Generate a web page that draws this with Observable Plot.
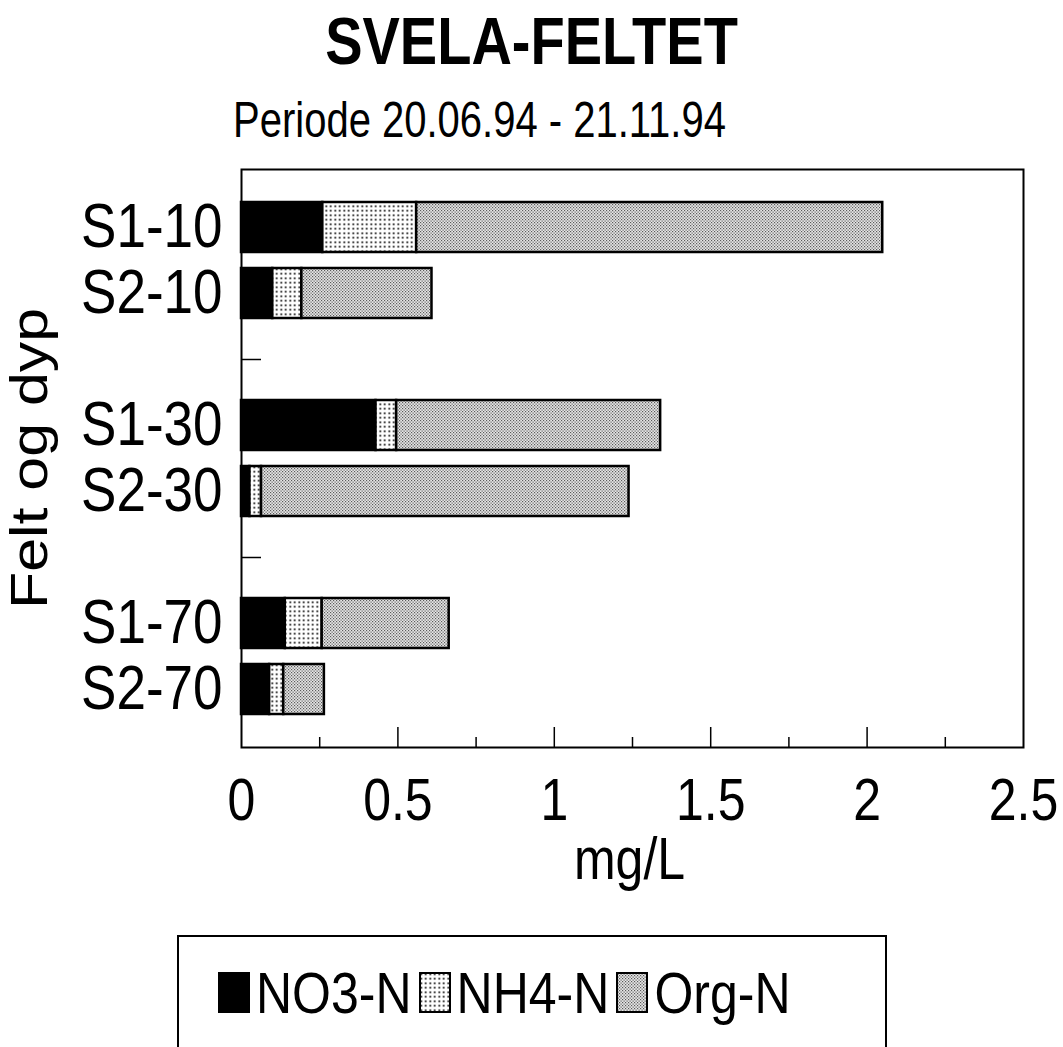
<!DOCTYPE html>
<html><head><meta charset="utf-8">
<script src="https://cdn.jsdelivr.net/npm/d3@7"></script>
<script src="https://cdn.jsdelivr.net/npm/@observablehq/plot@0.6"></script>
<style>
body{margin:0;background:#fff;font-family:"Liberation Sans",Arial,Helvetica,sans-serif;color:#000}
#wrap{position:relative;width:1063px;height:1047px;overflow:hidden;background:#fff}
#title{position:absolute;left:0;top:16.6px;width:1063px;text-align:center;font-weight:bold;font-size:56px;line-height:56px;transform:scaleY(1.2);transform-origin:50% 47.4px}
#subtitle{position:absolute;left:233px;top:103px;font-size:40px;line-height:40px;white-space:nowrap;transform:scaleY(1.25);transform-origin:0 33.9px}
#chart{position:absolute;left:0;top:150px}
#legend{position:absolute;left:177px;top:935px;width:710px;height:200px;border:2px solid #000;box-sizing:border-box}
#legend .items{position:absolute;left:39px;top:33.7px;display:flex;align-items:flex-start;white-space:nowrap}
#legend .sw{width:32px;height:41px;margin-top:1.3px;margin-right:6px}
#legend .lab{font-size:50px;line-height:50px;margin-right:7px;transform:scaleY(1.15);transform-origin:0 42.3px;display:inline-block}
</style></head><body>
<div id="wrap">
<svg width="0" height="0" style="position:absolute">
<defs>
<pattern id="pNH4" width="4.5" height="4.5" patternUnits="userSpaceOnUse">
 <rect width="4.5" height="4.5" fill="#fff"/>
 <rect x="1.4" y="1.4" width="1.7" height="1.7" fill="#000"/>
</pattern>
<pattern id="pOrg" width="3" height="3" patternUnits="userSpaceOnUse">
 <rect width="3" height="3" fill="#e6e6e6"/>
 <rect x="0" y="0" width="1.2" height="1.2" fill="#5a5a5a"/>
 <rect x="1.5" y="1.5" width="1.2" height="1.2" fill="#5a5a5a"/>
</pattern>
</defs></svg>
<div id="title">SVELA-FELTET</div>
<div id="subtitle">Periode 20.06.94 - 21.11.94</div>
<div id="chart"></div>
<div id="legend"><div class="items" id="legendItems"></div></div>
</div>
<script>
// Data
const sites = ["S1-10", "S2-10", "S1-30", "S2-30", "S1-70", "S2-70"];
const no3 = [0.26, 0.10, 0.43, 0.027, 0.14, 0.09];
const nh4 = [0.30, 0.093, 0.066, 0.037, 0.118, 0.045];
const org = [1.49, 0.416, 0.844, 1.175, 0.406, 0.13];
const components = ["NO3-N", "NH4-N", "Org-N"];
const componentFills = ["#000", "url(#pNH4)", "url(#pOrg)"];
const xTicks = [0, 0.5, 1, 1.5, 2, 2.5];
const xMinorTicks = [0.25, 0.75, 1.25, 1.75, 2.25];
const depthGaps = ["gap-10-30", "gap-30-70"];
const yLabel = "Felt og dyp";
const xLabel = "mg/L";

const series = [no3, nh4, org];
const rows = sites.flatMap((s, i) => components.map((c, k) => ({site: s, component: c, value: series[k][i]})));
const yDomain = [...sites.slice(0, 2), depthGaps[0], ...sites.slice(2, 4), depthGaps[1], ...sites.slice(4)];

const font = '"Liberation Sans", Arial, Helvetica, sans-serif';
const chart = Plot.plot({
  width: 1063, height: 750,
  marginTop: 19, marginBottom: 153, marginLeft: 241, marginRight: 40,
  style: {fontFamily: font, color: "#000", background: "transparent", overflow: "visible"},
  x: {domain: [0, 2.5]},
  y: {domain: yDomain, paddingInner: 0.25, paddingOuter: 0.44},
  color: {domain: components, range: componentFills},
  marks: [
    Plot.barX(rows, Plot.stackX({y: "site", x: "value", fill: "component", order: components, stroke: "#000", strokeWidth: 2.5})),
    Plot.frame({stroke: "#000", strokeWidth: 2}),
    Plot.axisX({ticks: xTicks, tickSize: 0, tickPadding: 31, fontSize: 50, label: null, tickFormat: d => String(d)}),
    Plot.axisX({ticks: xTicks.slice(1, -1), tickSize: -20, tickFormat: () => "", label: null, strokeWidth: 1.5}),
    Plot.axisX({ticks: xMinorTicks, tickSize: -10, tickFormat: () => "", label: null, strokeWidth: 1.5}),
    Plot.axisY({ticks: sites, tickSize: 0, tickPadding: 19, fontSize: 53, label: null}),
    Plot.axisY({ticks: depthGaps, tickSize: -20, tickFormat: () => "", label: null, strokeWidth: 1.5}),
    Plot.text([yLabel], {frameAnchor: "left", textAnchor: "middle", lineAnchor: "middle", text: d => d, rotate: -90, dx: -211, fontSize: 52}),
    Plot.text([xLabel], {frameAnchor: "bottom", textAnchor: "middle", lineAnchor: "middle", text: d => d, dy: 113, dx: -3, fontSize: 50})
  ]
});

// The reference lettering is taller than the typeface; stretch glyphs along the page's vertical.
function stretchText(svg, k) {
  svg.querySelectorAll("text").forEach(t => {
    if (!t.textContent) return;
    const tr = t.getAttribute("transform") || "";
    const x = t.getAttribute("x"), y = t.getAttribute("y");
    let tx = 0, ty = 0;
    if (x && !/em$/.test(x)) { tx = +x; t.removeAttribute("x"); }
    if (y && !/em$/.test(y)) { ty = +y; t.removeAttribute("y"); }
    const rotated = /rotate/.test(tr);
    t.setAttribute("transform", `${tr} translate(${tx},${ty}) ${rotated ? `scale(${k},1)` : `scale(1,${k})`}`);
  });
}
stretchText(chart, 1.17);
document.getElementById("chart").appendChild(chart);

// Legend
const li = document.getElementById("legendItems");
components.forEach((c, k) => {
  const sw = document.createElementNS("http://www.w3.org/2000/svg", "svg");
  sw.setAttribute("class", "sw");
  sw.setAttribute("width", 32); sw.setAttribute("height", 41);
  const r = document.createElementNS("http://www.w3.org/2000/svg", "rect");
  r.setAttribute("x", 1); r.setAttribute("y", 1); r.setAttribute("width", 30); r.setAttribute("height", 39);
  r.setAttribute("fill", componentFills[k]); r.setAttribute("stroke", "#000"); r.setAttribute("stroke-width", 2);
  sw.appendChild(r);
  li.appendChild(sw);
  const t = document.createElement("span");
  t.className = "lab"; t.textContent = c;
  li.appendChild(t);
});
</script>
</body></html>
